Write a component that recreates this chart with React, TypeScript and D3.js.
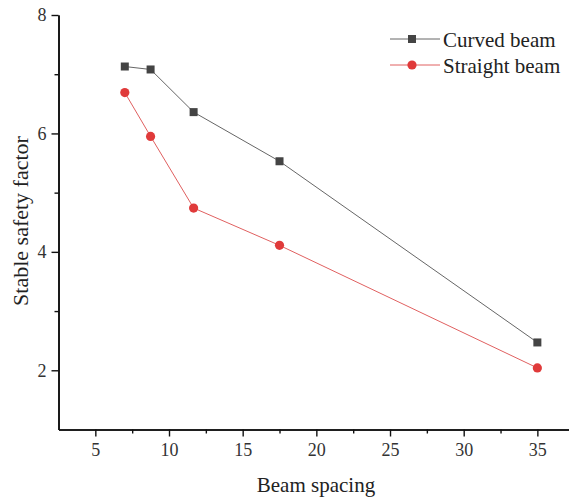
import { useEffect, useRef } from "react";
import * as d3 from "d3";

// beam spacing values and stable safety factors
const spacing = [7, 8.75, 11.67, 17.5, 35];
const curved = [7.13, 7.08, 6.36, 5.53, 2.47];
const straight = [6.69, 5.95, 4.74, 4.11, 2.04];
const xTicks = [5, 10, 15, 20, 25, 30, 35];
const yTicks = [2, 4, 6, 8];

export default function App() {
  const ref = useRef<SVGSVGElement | null>(null);

  useEffect(() => {
    const svg = d3.select(ref.current);
    const width = 569;
    const height = 500;
    svg.selectAll("*").remove();
    svg.attr("width", width).attr("height", height);
    svg.append("rect").attr("width", width).attr("height", height).attr("fill", "#fff");

    const x = d3.scaleLinear().domain([2.5, 37.5]).range([58.5, 574.2]);
    const y = d3.scaleLinear().domain([1, 8]).range([429.5, 15]);
    const font = "'Liberation Serif', 'Times New Roman', serif";

    // axes
    const xAxis = d3.axisBottom(x).tickValues(xTicks).tickFormat(d3.format("d")).tickSize(7).tickPadding(7).tickSizeOuter(0);
    const xMinor = d3.axisBottom(x).tickValues(d3.range(7.5, 37.5, 5)).tickSize(4).tickFormat(() => "").tickSizeOuter(0);
    const yAxis = d3.axisLeft(y).tickValues(yTicks).tickFormat(d3.format("d")).tickSize(7).tickPadding(5).tickSizeOuter(0);
    const yMinor = d3.axisLeft(y).tickValues([3, 5, 7]).tickSize(4).tickFormat(() => "").tickSizeOuter(0);

    const styleAxis = (g: any) => {
      g.attr("font-family", null).attr("font-size", null);
      g.select(".domain").attr("stroke", "#111").attr("stroke-width", 1.6);
      g.selectAll(".tick line").attr("stroke", "#111").attr("stroke-width", 1.4);
      g.selectAll(".tick text").attr("fill", "#333")
        .style("font-size", "18px").style("font-family", font);
    };

    svg.append("g").attr("transform", `translate(0,${y(1)})`).call(xMinor).call(styleAxis);
    svg.append("g").attr("transform", `translate(0,${y(1)})`).call(xAxis).call(styleAxis);
    svg.append("g").attr("transform", `translate(${x(2.5)},0)`).call(yMinor).call(styleAxis);
    svg.append("g").attr("transform", `translate(${x(2.5)},0)`).call(yAxis).call(styleAxis);

    // axis titles
    svg.append("text")
      .attr("x", 316).attr("y", 492)
      .attr("text-anchor", "middle")
      .style("font-family", font).style("font-size", "21px").attr("fill", "#222")
      .text("Beam spacing");
    svg.append("text")
      .attr("transform", `translate(28,${221}) rotate(-90)`)
      .attr("text-anchor", "middle")
      .style("font-family", font).style("font-size", "22px").attr("fill", "#222")
      .text("Stable safety factor");

    const line = d3.line<number>().x((_, i) => x(spacing[i]));

    const series = [
      { name: "Curved beam", values: curved, color: "#444", lineColor: "#666", shape: "square" },
      { name: "Straight beam", values: straight, color: "#e03a3a", lineColor: "#e06060", shape: "circle" },
    ];

    series.forEach((s, k) => {
      svg.append("path")
        .attr("d", line.y((d) => y(d))(s.values))
        .attr("fill", "none").attr("stroke", s.lineColor).attr("stroke-width", 1);
      const drawMark = (g: any, cx: number, cy: number) => {
        if (s.shape === "square") {
          g.append("rect").attr("x", cx - 4).attr("y", cy - 4).attr("width", 8).attr("height", 8).attr("fill", s.color);
        } else {
          g.append("circle").attr("cx", cx).attr("cy", cy).attr("r", 4.6).attr("fill", s.color);
        }
      };
      s.values.forEach((v, i) => drawMark(svg, x(spacing[i]), y(v)));

      // legend
      const ly = 39 + k * 26;
      svg.append("line").attr("x1", 390).attr("x2", 440).attr("y1", ly).attr("y2", ly)
        .attr("stroke", s.lineColor).attr("stroke-width", 1);
      drawMark(svg, 412, ly);
      svg.append("text").attr("x", 443).attr("y", ly + 7.5)
        .style("font-family", font).style("font-size", "21px").attr("fill", "#222")
        .text(s.name);
    });
  }, []);

  return (
    <div style={{ position: "absolute", left: 0, top: 0 }}>
      <svg ref={ref} style={{ display: "block" }} />
    </div>
  );
}
